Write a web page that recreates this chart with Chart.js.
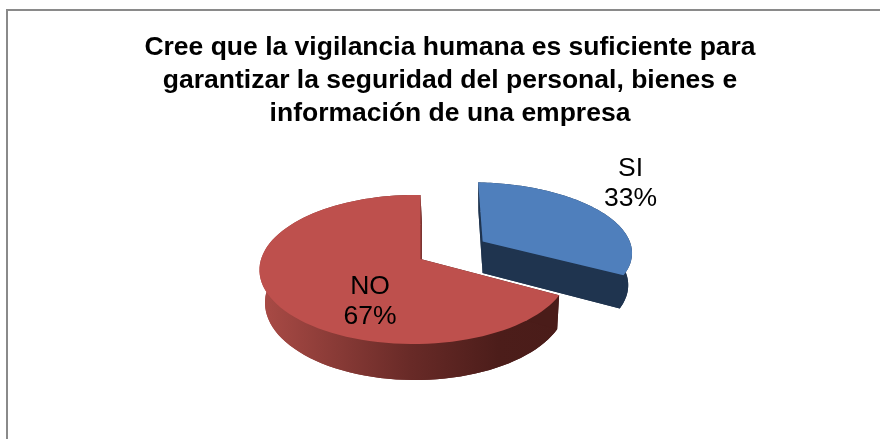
<!DOCTYPE html>
<html lang="es">
<head>
<meta charset="utf-8">
<title>Vigilancia humana</title>
<script src="https://cdn.jsdelivr.net/npm/chart.js@4"></script>
<style>
  html, body { margin: 0; padding: 0; background: #fff; overflow: hidden; }
  #wrap { position: relative; width: 880px; height: 439px; }
</style>
</head>
<body>
<div id="wrap"><canvas id="chart" width="880" height="439"></canvas></div>
<script>
const categories = ['SI', 'NO'];
const values = [33, 67];
const titleLines = [
  'Cree que la vigilancia humana es suficiente para',
  'garantizar la seguridad del personal, bienes e',
  'información de una empresa',
];

// Vista 3D: proyecta el plano de la torta con perspectiva
const VIEW = {
  shiftX: -29.5,
  squash: 73,
  k: 0.141,
  m: 0.04,
  depth: 32.3,
  depthY: 0.043,
  floorX: 0.975,
  floorShift: 1.5,
};

const STYLES = [
  { top: '#4f7fbc', wall: '#1f344f', cutStart: '#1f344f', cutEnd: '#1f344f', stretch: 1.07, lean: 0.057, label: [210, -75.5] },
  { top: '#be504d', wall: null, cutStart: '#4a1c19', cutEnd: '#7d3431', stretch: 1, lean: 0, label: [-50.5, 42.5] },
];

function project(arc, u, v, floor) {
  const d = 1 + VIEW.k * v + VIEW.m * u;
  const px = (arc.outerRadius * u) / d;
  const py = (-VIEW.squash * v) / d;
  const cx = arc.x + VIEW.shiftX;
  if (!floor) return [cx + px, arc.y + py];
  return [
    cx + VIEW.floorShift + px * VIEW.floorX,
    arc.y + py + VIEW.depth + py * VIEW.depthY,
  ];
}

function tracePath(ctx, points) {
  ctx.beginPath();
  points.forEach((p, i) => (i ? ctx.lineTo(p[0], p[1]) : ctx.moveTo(p[0], p[1])));
  ctx.closePath();
}

function sliceGeometry(arc, offset, style) {
  const a0 = arc.startAngle + Math.PI / 2;
  const a1 = arc.endAngle + Math.PI / 2;
  const mid = (a0 + a1) / 2;
  const ou = (Math.sin(mid) * offset) / arc.outerRadius;
  const ov = (Math.cos(mid) * offset) / arc.outerRadius;
  // ajuste fino de la porcion separada alrededor de su vertice
  const adjust = (p, apex) => [
    apex[0] + (p[0] - apex[0]) * style.stretch - (p[1] - apex[1]) * style.lean,
    p[1],
  ];
  const apexTop = project(arc, ou, ov, false);
  const apexFloor = project(arc, ou, ov, true);
  const rim = (floor) => {
    const pts = [];
    for (let i = 0; i <= 90; i++) {
      const t = a0 + ((a1 - a0) * i) / 90;
      pts.push(adjust(project(arc, ou + Math.sin(t), ov + Math.cos(t), floor), floor ? apexFloor : apexTop));
    }
    return pts;
  };
  return { apexTop, apexFloor, rimTop: rim(false), rimFloor: rim(true) };
}

const pie3d = {
  id: 'pie3d',
  beforeDatasetDraw(chart, args) {
    const { ctx } = chart;
    const arcs = args.meta.data;
    arcs.forEach((el, i) => {
      const arc = el.getProps(['x', 'y', 'startAngle', 'endAngle', 'outerRadius'], true);
      const s = STYLES[i];
      const g = sliceGeometry(arc, el.options.offset || 0, s);
      ctx.save();

      let wall = s.wall;
      if (!wall) {
        const xs = g.rimFloor.map((p) => p[0]);
        const grad = ctx.createLinearGradient(Math.min(...xs), 0, Math.max(...xs), 0);
        grad.addColorStop(0, '#a84a45');
        grad.addColorStop(0.5, '#682a27');
        grad.addColorStop(0.8, '#4c1d1a');
        grad.addColorStop(1, '#4a1c19');
        wall = grad;
      }

      // piso y pared exterior
      ctx.fillStyle = wall;
      tracePath(ctx, [g.apexFloor, ...g.rimFloor]);
      ctx.fill();
      tracePath(ctx, [...g.rimTop, ...g.rimFloor.slice().reverse()]);
      ctx.fill();

      // caras del corte
      const last = g.rimTop.length - 1;
      ctx.fillStyle = s.cutStart;
      tracePath(ctx, [g.apexTop, g.rimTop[0], g.rimFloor[0], g.apexFloor]);
      ctx.fill();
      ctx.fillStyle = s.cutEnd;
      tracePath(ctx, [g.apexTop, g.rimTop[last], g.rimFloor[last], g.apexFloor]);
      ctx.fill();

      // cara superior
      ctx.fillStyle = el.options.backgroundColor;
      tracePath(ctx, [g.apexTop, ...g.rimTop]);
      ctx.fill();
      ctx.restore();
    });
    return false;
  },
  afterDatasetsDraw(chart) {
    const { ctx } = chart;
    const total = values.reduce((a, b) => a + b, 0);
    chart.getDatasetMeta(0).data.forEach((el, i) => {
      const [dx, dy] = STYLES[i].label;
      const x = el.x + VIEW.shiftX + dx;
      const y = el.y + dy;
      ctx.save();
      ctx.font = '26.5px "Liberation Sans", Arial, sans-serif';
      ctx.fillStyle = '#000';
      ctx.textAlign = 'center';
      ctx.textBaseline = 'middle';
      ctx.fillText(categories[i], x, y - 15);
      ctx.fillText(Math.round((values[i] / total) * 100) + '%', x, y + 15);
      ctx.restore();
    });
  },
};

const frame = {
  id: 'frame',
  beforeDraw(chart) {
    const { ctx } = chart;
    ctx.save();
    ctx.strokeStyle = '#8a8a8a';
    ctx.lineWidth = 2;
    ctx.beginPath();
    ctx.moveTo(7, 439);
    ctx.lineTo(7, 10);
    ctx.lineTo(880, 10);
    ctx.stroke();
    ctx.restore();
  },
};

new Chart(document.getElementById('chart'), {
  type: 'pie',
  data: {
    labels: categories,
    datasets: [{
      data: values,
      backgroundColor: STYLES.map((s) => s.top),
      borderWidth: 0,
      offset: [76, 0],
    }],
  },
  options: {
    responsive: false,
    animation: false,
    radius: 153,
    layout: { padding: { left: 20, right: 0, top: 0, bottom: 56 } },
    plugins: {
      legend: { display: false },
      tooltip: { enabled: false },
      title: {
        display: true,
        text: titleLines,
        color: '#000',
        font: { family: '"Liberation Sans", Arial, sans-serif', size: 26.5, weight: 'bold', lineHeight: 1.245 },
        padding: { top: 31, bottom: 5 },
      },
    },
  },
  plugins: [frame, pie3d],
});
</script>
</body>
</html>
